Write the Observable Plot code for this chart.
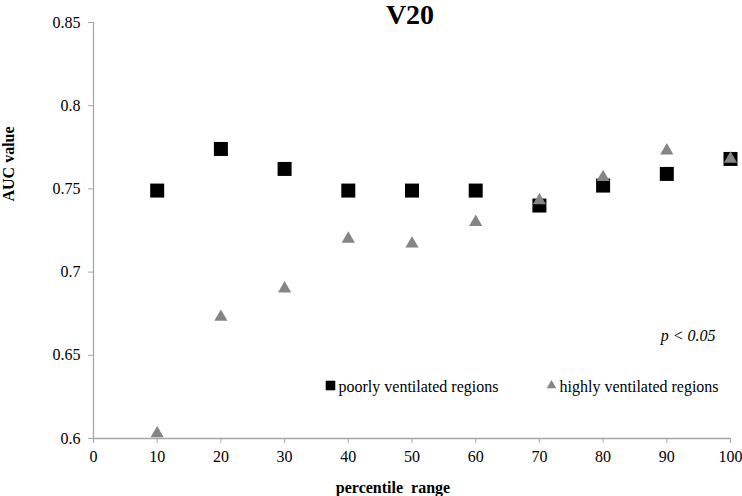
<!DOCTYPE html>
<html><head><meta charset="utf-8">
<script src="https://cdn.jsdelivr.net/npm/d3@7"></script>
<script src="https://cdn.jsdelivr.net/npm/@observablehq/plot@0.6"></script>
<style>body{margin:0;background:#fff} svg text{font-family:'Liberation Serif','Times New Roman',serif}</style>
</head><body><div id="chart"></div>
<script>
const percentiles = [10, 20, 30, 40, 50, 60, 70, 80, 90, 100];
const poorly = [0.749, 0.774, 0.762, 0.749, 0.749, 0.749, 0.740, 0.752, 0.759, 0.768];
const highly = [0.603, 0.673, 0.690, 0.720, 0.717, 0.730, 0.743, 0.757, 0.773, 0.768];
const xTicks = [0, 10, 20, 30, 40, 50, 60, 70, 80, 90, 100];
const yTicks = [0.6, 0.65, 0.7, 0.75, 0.8, 0.85];
const seriesNames = ["poorly ventilated regions", "highly ventilated regions"];
const titleText = "V20";
const xLabel = "percentile  range";
const yLabel = "AUC value";
const note = "p < 0.05";

const poorData = percentiles.map((p, i) => ({x: p, y: poorly[i]}));
const highData = percentiles.map((p, i) => ({x: p, y: highly[i]}));
const serif = "Liberation Serif";
const axisGray = "#a6a6a6";

const chart = Plot.plot({
  width: 742,
  height: 496,
  marginLeft: 93,
  marginRight: 12,
  marginTop: 22,
  marginBottom: 58,
  style: {fontFamily: serif, fontSize: "16px", color: "#000", background: "#fff", overflow: "visible"},
  x: {domain: [0, 100]},
  y: {domain: [0.6, 0.85]},
  marks: [
    Plot.ruleX([0], {stroke: axisGray, strokeWidth: 1.3}),
    Plot.ruleY([0.6], {stroke: axisGray, strokeWidth: 1.3}),
    Plot.axisY({ticks: yTicks, tickFormat: d => String(+d.toFixed(2)), tickSize: 5, tickPadding: 8, stroke: axisGray, label: null, fontSize: 16, fontFamily: serif}),
    Plot.axisX({ticks: xTicks, tickFormat: d => String(d), tickSize: 5, tickPadding: 7, stroke: axisGray, label: null, fontSize: 16, fontFamily: serif}),
    Plot.dot(poorData, {x: "x", y: "y", symbol: "square", r: 7.9, fill: "#000", stroke: "none"}),
    Plot.dot(highData, {x: "x", y: "y", symbol: "triangle", r: 4.9, fill: "#858585", stroke: "none"}),
    Plot.text([titleText], {frameAnchor: "top", dx: -2, dy: -7, lineAnchor: "middle", fontSize: 28, fontWeight: "bold", fill: "#000", fontFamily: serif}),
    Plot.text([yLabel], {frameAnchor: "left", dx: -85, dy: -29, rotate: -90, fontSize: 16, fontWeight: "bold", fill: "#000", fontFamily: serif}),
    Plot.text([xLabel], {frameAnchor: "bottom", dx: -19, dy: 49, lineAnchor: "middle", fontSize: 16, fontWeight: "bold", fill: "#000", fontFamily: serif}),
    Plot.text([note], {frameAnchor: "bottom-right", dx: -15, dy: -103, textAnchor: "end", lineAnchor: "middle", fontSize: 16, fontStyle: "italic", fill: "#000", fontFamily: serif}),
    Plot.dot([seriesNames[0]], {frameAnchor: "bottom-left", dx: 237, dy: -53, symbol: "square", r: 5.4, fill: "#000", stroke: "none"}),
    Plot.text([seriesNames[0]], {frameAnchor: "bottom-left", dx: 245, dy: -52, textAnchor: "start", lineAnchor: "middle", fontSize: 16, fill: "#000", fontFamily: serif}),
    Plot.dot([seriesNames[1]], {frameAnchor: "bottom-left", dx: 458, dy: -53, symbol: "triangle", r: 3.6, fill: "#858585", stroke: "none"}),
    Plot.text([seriesNames[1]], {frameAnchor: "bottom-left", dx: 466, dy: -52, textAnchor: "start", lineAnchor: "middle", fontSize: 16, fill: "#000", fontFamily: serif})
  ]
});
document.getElementById("chart").appendChild(chart);
</script>
</body></html>
